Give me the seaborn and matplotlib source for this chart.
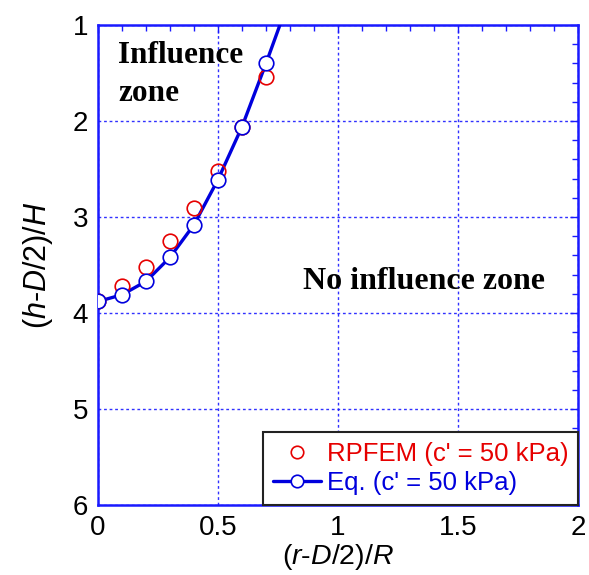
import matplotlib
matplotlib.use("Agg")
import matplotlib.pyplot as plt
from matplotlib.lines import Line2D
from matplotlib.ticker import MultipleLocator
import seaborn as sns
import pandas as pd

# data
rpfem_x = [0.0, 0.1, 0.2, 0.3, 0.4, 0.5, 0.6, 0.7]
rpfem_y = [3.88, 3.72, 3.52, 3.25, 2.91, 2.52, 2.06, 1.54]
eq_x = [0.0, 0.1, 0.2, 0.3, 0.4, 0.5, 0.6, 0.7]
eq_y = [3.88, 3.81, 3.67, 3.42, 3.08, 2.61, 2.06, 1.40]
curve_x = [0.0, 0.1, 0.2, 0.3, 0.4, 0.5, 0.6, 0.7, 0.758]
curve_y = [3.88, 3.81, 3.67, 3.42, 3.08, 2.61, 2.06, 1.40, 1.0]
x_ticks = [0, 0.5, 1, 1.5, 2]
x_tick_labels = ["0", "0.5", "1", "1.5", "2"]
y_ticks = [1, 2, 3, 4, 5, 6]
y_tick_labels = ["1", "2", "3", "4", "5", "6"]

sns.set_theme(style="white")
plt.rcParams["font.family"] = ["Liberation Sans", "DejaVu Sans"]
plt.rcParams["mathtext.fontset"] = "custom"
plt.rcParams["mathtext.rm"] = "Liberation Sans"
plt.rcParams["mathtext.it"] = "Liberation Sans:italic"

BLUE = "#0000dd"
RED = "#e60000"
SPINE = "#1a1aff"

fig = plt.figure(figsize=(5.89, 5.75), dpi=100)
ax = fig.add_axes([98 / 589, 70 / 575, 480 / 589, 480 / 575])

df_curve = pd.DataFrame({"x": curve_x, "y": curve_y})
df_eq = pd.DataFrame({"x": eq_x, "y": eq_y})
df_rp = pd.DataFrame({"x": rpfem_x, "y": rpfem_y})

sns.lineplot(data=df_curve, x="x", y="y", ax=ax, color=BLUE, lw=2.4,
             sort=False, estimator=None, zorder=3)
ax.plot(df_rp["x"], df_rp["y"], ls="none", marker="o", ms=10.5, mfc="none",
        mec=RED, mew=1.2, zorder=4)
ax.plot(df_eq["x"], df_eq["y"], ls="none", marker="o", ms=10.5, mfc="white",
        mec=BLUE, mew=1.2, zorder=5)

ax.set_xlim(0, 2)
ax.set_ylim(6, 1)
ax.set_xticks(x_ticks)
ax.set_xticklabels(x_tick_labels)
ax.set_yticks(y_ticks)
ax.set_yticklabels(y_tick_labels)
ax.xaxis.set_minor_locator(MultipleLocator(0.1))
ax.yaxis.set_minor_locator(MultipleLocator(0.2))
ax.tick_params(which="both", direction="in", top=True, right=True,
               color=SPINE, labelsize=20, labelcolor="black")
ax.tick_params(which="major", length=6, width=1.0, pad=7)
ax.tick_params(which="minor", length=4, width=1.0)
for s in ax.spines.values():
    s.set_color(SPINE)
    s.set_linewidth(1.8)
ax.grid(True, which="major", color=SPINE, lw=1.0, ls=(0, (2, 2)), alpha=0.9)

ax.set_xlabel("($r$-$D$/2)/$R$", fontsize=20.5, color="black", labelpad=1)
ax.set_ylabel("($h$-$D$/2)/$H$", fontsize=22, color="black", labelpad=13)

ax.text(0.083, 1.17, "Influence\nzone", fontsize=22.5, fontweight="bold",
        family=["Liberation Serif"], ha="left", va="top", linespacing=1.4,
        color="black", zorder=6)
ax.text(1.36, 3.75, "No influence zone", fontsize=23, fontweight="bold",
        family=["Liberation Serif"], ha="center", va="baseline",
        color="black", zorder=6)

handles = [
    Line2D([], [], ls="none", marker="o", ms=9, mfc="none", mec=RED, mew=1.2),
    Line2D([], [], color=BLUE, lw=2.4, marker="o", ms=9, mfc="white",
           mec=BLUE, mew=1.2),
]
leg = ax.legend(handles, ["RPFEM (c' = 50 kPa)", "Eq. (c' = 50 kPa)"],
                loc="lower right", borderaxespad=0, fontsize=18.5,
                frameon=True, fancybox=False, handlelength=1.9,
                handletextpad=0.2, labelspacing=0.2, borderpad=0.38,
                labelcolor=[RED, BLUE])
leg.get_frame().set_edgecolor("#222222")
leg.get_frame().set_linewidth(1.5)
leg.get_frame().set_facecolor("white")
leg.get_frame().set_alpha(1)
leg.set_zorder(10)

fig.savefig("out.png", dpi=100)
